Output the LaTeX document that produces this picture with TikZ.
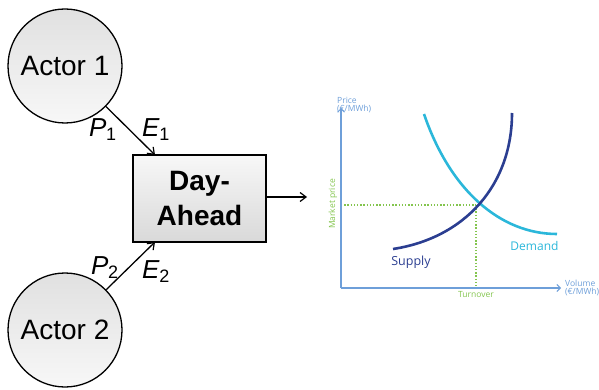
\documentclass[tikz,border=0pt]{standalone}
\usepackage{fontspec}
\setmainfont{Liberation Sans}
\newfontfamily\chartfont{Open Sans}
\usetikzlibrary{arrows.meta}

\definecolor{axisblue}{HTML}{6E9FD9}
\definecolor{guidegreen}{HTML}{84C54E}
\definecolor{supplyblue}{HTML}{2B3E91}
\definecolor{demandcyan}{HTML}{2BB7DA}

\tikzset{
  actor/.style={circle, draw=black, line width=1.3pt, minimum size=114pt,
    top color=gray!24, bottom color=gray!6, font=\fontsize{28}{30}\selectfont, inner sep=0pt},
  market/.style={rectangle, draw=black, line width=1.6pt, minimum width=133pt, minimum height=87pt,
    top color=gray!6, bottom color=gray!30, align=center,
    font=\bfseries\fontsize{28}{35}\selectfont},
  flow/.style={line width=1.3pt, -{Straight Barb[length=6pt, width=9pt, line width=1.2pt]}},
  flowlabel/.style={font=\fontsize{26}{28}\selectfont, inner sep=0pt},
  axis/.style={draw=axisblue, line width=1.1pt, -{Straight Barb[length=3.5pt, width=7pt, line width=1pt]}},
  guide/.style={draw=guidegreen, line width=1.3pt, dash pattern=on 1.4pt off 1.8pt},
  curve/.style={line width=2.6pt},
  chartlabel/.style={font=\chartfont\fontsize{8.5}{8}\selectfont, inner sep=0pt},
}

\newcommand{\flowsym}[2]{\textit{#1}\kern-0.5pt\raisebox{-4pt}{\fontsize{18}{18}\selectfont #2}}

\begin{document}
\begin{tikzpicture}[x=1pt, y=-1pt]
\useasboundingbox (0,0) rectangle (599,390);

% actors and the day-ahead market
\node[actor] (a1) at (65,66) {Actor 1};
\node[actor] (a2) at (65,330) {Actor 2};
\node[market] (da) at (199.5,198.5) {Day-\\Ahead};

\coordinate (in1) at (155,155);
\coordinate (in2) at (155,242);
\coordinate (out) at (307,197);

\draw[flow] (a1) -- (in1);
\draw[flow] (a2) -- (in2);
\draw[flow] (da.east |- out) -- (out);

\node[flowlabel, anchor=base west] (p1) at (89,137) {\flowsym{P}{1}};
\node[flowlabel, anchor=base west] (e1) at (142,137) {\flowsym{E}{1}};
\node[flowlabel, anchor=base west] (p2) at (91,274) {\flowsym{P}{2}};
\node[flowlabel, anchor=base west] (e2) at (142,278) {\flowsym{E}{2}};

% supply and demand chart
\coordinate (origin) at (341,288);
\coordinate (ytip) at (341,108);
\coordinate (xtip) at (561,288);
\coordinate (eq) at (476,205);

\draw[guide] (origin |- eq) -- (eq);
\draw[guide] (eq) -- (eq |- origin);

\draw[axis] (origin) -- (ytip);
\draw[axis] (origin) -- (xtip);

\draw[curve, demandcyan] (424,114) .. controls (450,190) and (500,234) .. (557,234);
\draw[curve, supplyblue] (393,249) .. controls (465,238) and (512,185) .. (512,113);

\node[chartlabel, text=axisblue, anchor=south west, align=left] (pricelbl) at (337,113) {Price\\(€/MWh)};
\node[chartlabel, text=axisblue, anchor=west, align=left] (vollbl) at (565,288) {Volume\\(€/MWh)};
\node[chartlabel, text=guidegreen, rotate=90] (mplbl) at (333,204) {Market price};
\node[chartlabel, text=guidegreen] (tolbl) at (476,294.5) {Turnover};
\node[font=\chartfont\fontsize{12.5}{12}\selectfont, text=supplyblue, inner sep=0pt] (suplbl) at (411,262) {Supply};
\node[font=\chartfont\fontsize{12}{12}\selectfont, text=demandcyan, inner sep=0pt] (demlbl) at (534.5,246) {Demand};
\end{tikzpicture}
\end{document}
